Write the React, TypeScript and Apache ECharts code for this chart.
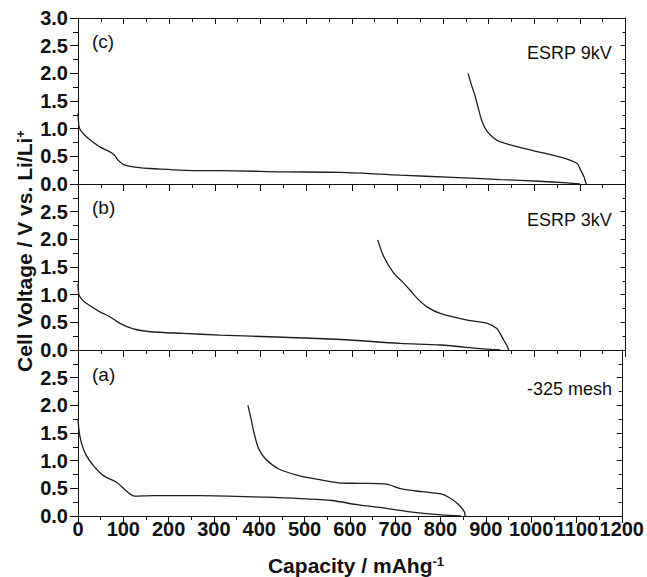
import React, { useEffect, useRef } from "react";
import * as echarts from "echarts";

// Capacity (mAh/g) and voltage (V) — panel (c) ESRP 9kV
const cDischargeCap = [0, 2, 5, 15, 26, 48, 70, 80, 88, 103, 130, 158, 268, 311, 450, 575, 706, 820, 926, 1010, 1072, 1100];
const cDischargeV = [1.28, 1.05, 0.98, 0.88, 0.8, 0.67, 0.58, 0.52, 0.43, 0.34, 0.3, 0.28, 0.24, 0.24, 0.22, 0.21, 0.16, 0.12, 0.08, 0.05, 0.02, 0.0];
const cChargeCap = [1114, 1112, 1109, 1100, 1094, 1072, 1040, 999, 960, 926, 911, 896, 886, 878, 870, 862, 855];
const cChargeV = [0.0, 0.05, 0.13, 0.28, 0.37, 0.45, 0.52, 0.6, 0.68, 0.76, 0.83, 0.96, 1.12, 1.35, 1.6, 1.8, 2.0];

// panel (b) ESRP 3kV
const bDischargeCap = [0, 2, 8, 19, 48, 70, 92, 121, 158, 231, 311, 450, 575, 706, 794, 889, 926];
const bDischargeV = [1.2, 1.0, 0.92, 0.84, 0.69, 0.6, 0.48, 0.38, 0.33, 0.3, 0.27, 0.23, 0.19, 0.12, 0.09, 0.02, 0.0];
const bChargeCap = [944, 940, 933, 925, 918, 897, 853, 794, 765, 745, 728, 710, 692, 670, 657];
const bChargeV = [0.0, 0.08, 0.18, 0.3, 0.39, 0.48, 0.54, 0.66, 0.78, 0.92, 1.08, 1.24, 1.39, 1.69, 1.99];

// panel (a) -325 mesh
const aDischargeCap = [0, 4, 15, 34, 56, 85, 110, 125, 165, 268, 414, 500, 560, 619, 670, 728, 801, 845];
const aDischargeV = [1.75, 1.45, 1.15, 0.91, 0.73, 0.61, 0.43, 0.36, 0.37, 0.37, 0.34, 0.31, 0.28, 0.2, 0.15, 0.08, 0.02, 0.0];
const aChargeCap = [854, 853, 838, 820, 801, 760, 714, 677, 620, 575, 530, 487, 443, 414, 399, 390, 382, 375];
const aChargeV = [0.0, 0.07, 0.22, 0.33, 0.4, 0.44, 0.49, 0.58, 0.59, 0.6, 0.66, 0.73, 0.85, 1.03, 1.21, 1.45, 1.75, 2.0];

const panelLabels = ["(c)", "(b)", "(a)"];
const sampleLabels = ["ESRP 9kV", "ESRP 3kV", "-325 mesh"];
const xTitle = "Capacity / mAhg";
const xTitleSup = "-1";
const yTitle = "Cell Voltage / V vs. Li/Li";
const yTitleSup = "+";

const FONT = "Liberation Sans, Arial, sans-serif";
const INK = "#111";

const zip = (xs: number[], ys: number[]) => xs.map((x, i) => [x, ys[i]]);

export default function App() {
  const ref = useRef<HTMLDivElement>(null);
  useEffect(() => {
    document.body.style.margin = "0";
    if (!ref.current) return;
    const chart = echarts.init(ref.current, undefined, { renderer: "svg" });

    const tops = [18, 184, 350];
    const H = 166;
    const grids = tops.map((t) => ({ left: 78, right: 21.5, top: t, height: H }));

    const xAxes: any[] = [];
    const yAxes: any[] = [];
    tops.forEach((_, i) => {
      xAxes.push({
        type: "value",
        gridIndex: i,
        min: 0,
        max: 1200,
        interval: 100,
        position: "bottom",
        axisLine: { onZero: false, lineStyle: { color: INK, width: 1 } },
        axisTick: { inside: false, length: 7, lineStyle: { color: INK } },
        minorTick: { show: true, splitNumber: 2, length: 4, lineStyle: { color: INK } },
        splitLine: { show: false },
        axisLabel: {
          show: i === 2,
          margin: 3,
          color: INK,
          fontFamily: FONT,
          fontWeight: "bold",
          fontSize: 20,
          hideOverlap: false,
          showMinLabel: true,
          showMaxLabel: true,
          formatter: (v: number) => String(v),
        },
      });
      yAxes.push({
        type: "value",
        gridIndex: i,
        min: 0,
        max: 3,
        interval: 0.5,
        position: "left",
        axisLine: { onZero: false, lineStyle: { color: INK, width: 1 } },
        axisTick: { inside: false, length: 8, lineStyle: { color: INK } },
        minorTick: { show: true, splitNumber: 2, length: 5, lineStyle: { color: INK } },
        splitLine: { show: false },
        axisLabel: {
          margin: 10,
          color: INK,
          fontFamily: FONT,
          fontWeight: "bold",
          fontSize: 20,
          showMaxLabel: i === 0,
          formatter: (v: number) => (i > 0 && v >= 3 ? "" : v.toFixed(1)),
        },
      });
      yAxes.push({
        type: "value",
        gridIndex: i,
        min: 0,
        max: 3,
        interval: 0.5,
        position: "right",
        axisLine: { onZero: false, lineStyle: { color: INK, width: 1 } },
        axisTick: { inside: true, length: 5, lineStyle: { color: INK } },
        minorTick: { show: true, splitNumber: 2, length: 3, lineStyle: { color: INK } },
        splitLine: { show: false },
        axisLabel: { show: false },
      });
    });
    // top border of top panel
    xAxes.push({
      type: "value",
      gridIndex: 0,
      min: 0,
      max: 1200,
      interval: 100,
      position: "top",
      axisLine: { onZero: false, lineStyle: { color: INK, width: 1 } },
      axisTick: { inside: true, length: 6, lineStyle: { color: INK } },
      minorTick: { show: true, splitNumber: 2, length: 4, lineStyle: { color: INK } },
      splitLine: { show: false },
      axisLabel: { show: false },
    });

    const lineStyle = { color: "#1e1e1e", width: 1.3 };
    const mk = (data: number[][], gi: number) => ({
      type: "line",
      xAxisIndex: gi,
      yAxisIndex: gi * 2,
      data,
      showSymbol: false,
      symbol: "none",
      smooth: 0.3,
      lineStyle,
      silent: true,
    });
    const series = [
      mk(zip(cDischargeCap, cDischargeV), 0),
      mk(zip(cChargeCap, cChargeV), 0),
      mk(zip(bDischargeCap, bDischargeV), 1),
      mk(zip(bChargeCap, bChargeV), 1),
      mk(zip(aDischargeCap, aDischargeV), 2),
      mk(zip(aChargeCap, aChargeV), 2),
    ];

    const panelLabelY = [43, 209, 376];
    const sampleLabelY = [54, 221, 390];
    const graphic: any[] = [];
    panelLabels.forEach((t, i) => {
      graphic.push({
        type: "text",
        left: 92,
        top: panelLabelY[i] - 11,
        style: { text: t, fontFamily: FONT, fontSize: 19, fill: INK },
      });
      graphic.push({
        type: "text",
        right: 647 - 612,
        top: sampleLabelY[i] - 10,
        style: { text: sampleLabels[i], fontFamily: FONT, fontSize: 18, fill: INK },
      });
    });
    graphic.push({
      type: "text",
      x: 356,
      y: 565,
      style: {
        text: `{n|${xTitle}}{s|${xTitleSup}}`,
        align: "center",
        verticalAlign: "middle",
        rich: {
          n: { fontFamily: FONT, fontSize: 21, fontWeight: "bold", fill: INK, verticalAlign: "bottom" },
          s: { fontFamily: FONT, fontSize: 13, fontWeight: "bold", fill: INK, verticalAlign: "top" },
        },
      },
    });
    graphic.push({
      type: "text",
      x: 24,
      y: 251,
      rotation: Math.PI / 2,
      style: {
        text: `{n|${yTitle}}{s|${yTitleSup}}`,
        align: "center",
        verticalAlign: "middle",
        rich: {
          n: { fontFamily: FONT, fontSize: 21, fontWeight: "bold", fill: INK, verticalAlign: "bottom" },
          s: { fontFamily: FONT, fontSize: 13, fontWeight: "bold", fill: INK, verticalAlign: "top" },
        },
      },
    });

    chart.setOption({
      animation: false,
      backgroundColor: "#fff",
      grid: grids,
      xAxis: xAxes,
      yAxis: yAxes,
      series,
      graphic,
    });
    return () => chart.dispose();
  }, []);
  return <div ref={ref} style={{ width: 647, height: 577 }} />;
}
